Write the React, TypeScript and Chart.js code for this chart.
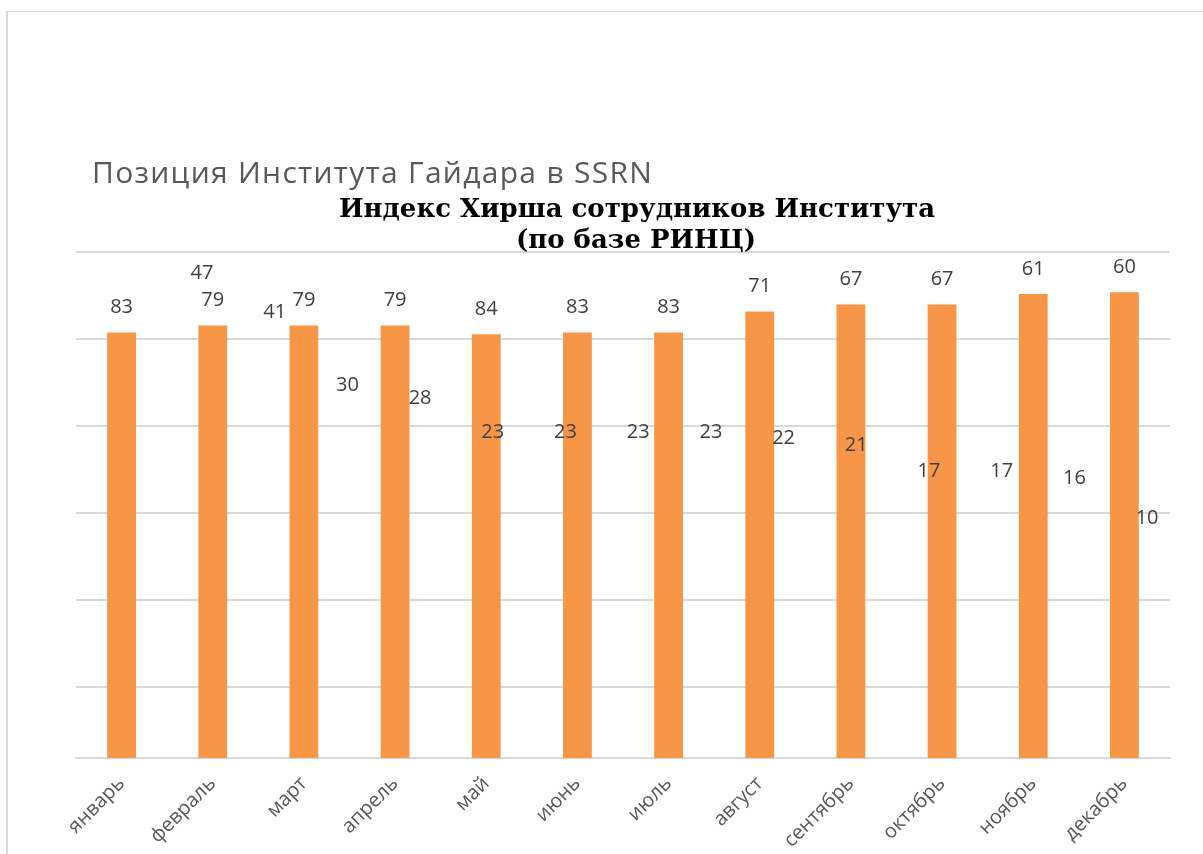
import React, { useEffect, useRef } from "react";
import { Chart, registerables } from "chart.js";

Chart.register(...registerables);

const months = [
  "январь", "февраль", "март", "апрель", "май", "июнь",
  "июль", "август", "сентябрь", "октябрь", "ноябрь", "декабрь",
];
const ssrnPositions = [83, 79, 79, 79, 84, 83, 83, 71, 67, 67, 61, 60];
const hirschValues = [47, 41, 30, 28, 23, 23, 23, 23, 22, 21, 17, 17, 16, 10];
const hirschSlots = hirschValues.map((_, i) => i + 1);
const yGridTicks = [36.8, 86.8, 136.8, 186.8, 236.8, 286.8];
const yMin = 36.8;
const yMax = 327.6;

const mainTitle = "Позиция Института Гайдара в SSRN";
const hirschTitle = ["Индекс Хирша сотрудников Института", "(по базе РИНЦ)"];

const labelPlugin = {
  id: "valueLabels",
  afterDatasetsDraw(chart: any) {
    const ctx = chart.ctx;
    ctx.save();
    ctx.font = '20px "Open Sans"';
    ctx.fillStyle = "#404040";
    ctx.textAlign = "center";
    ctx.textBaseline = "middle";
    chart.data.datasets.forEach((ds: any, di: number) => {
      const meta = chart.getDatasetMeta(di);
      meta.data.forEach((el: any, i: number) => {
        const raw = ds.data[i];
        const v = typeof raw === "object" ? raw.y : raw;
        ctx.fillText(String(v), el.x, el.y - 25);
      });
    });
    ctx.restore();
  },
};

const titlePlugin = {
  id: "titles",
  afterDraw(chart: any) {
    const ctx = chart.ctx;
    ctx.save();
    ctx.textBaseline = "alphabetic";
    ctx.textAlign = "left";
    ctx.font = '30px "Open Sans"';
    ctx.fillStyle = "#595959";
    const w0 = ctx.measureText(mainTitle).width;
    const spacing = Math.max(0, (560 - w0) / (mainTitle.length - 1));
    (ctx as any).letterSpacing = spacing.toFixed(2) + "px";
    ctx.fillText(mainTitle, 84, 171);
    (ctx as any).letterSpacing = "0px";
    ctx.textAlign = "center";
    ctx.font = 'bold 26px "DejaVu Serif"';
    ctx.fillStyle = "#000000";
    ctx.fillText(hirschTitle[0], 629, 205);
    ctx.fillText(hirschTitle[1], 628, 236);
    ctx.restore();
  },
};

export default function App() {
  const ref = useRef<HTMLCanvasElement | null>(null);
  useEffect(() => {
    if (!ref.current) return;
    const chart = new Chart(ref.current, {
      type: "bar",
      data: {
        labels: months,
        datasets: [
          {
            label: mainTitle,
            data: ssrnPositions,
            backgroundColor: "#F79646",
            base: yMax,
            grouped: false,
            barPercentage: 0.316,
            categoryPercentage: 1,
            xAxisID: "x",
            yAxisID: "y",
          } as any,
          {
            label: hirschTitle.join(" "),
            data: hirschValues.map((v, i) => ({ x: hirschSlots[i], y: v })),
            backgroundColor: "rgba(0,0,0,0)",
            grouped: false,
            xAxisID: "x2",
            yAxisID: "y2",
          } as any,
        ],
      },
      options: {
        responsive: false,
        animation: false,
        devicePixelRatio: 1,
        layout: { padding: { left: 68, right: 33, top: 240, bottom: 0 } },
        plugins: {
          legend: { display: false },
          tooltip: { enabled: false },
          title: { display: false },
        },
        scales: {
          x: {
            type: "category",
            offset: true,
            grid: { display: false },
            border: { display: true, color: "#d9d9d9", width: 2 },
            ticks: {
              minRotation: 45,
              maxRotation: 45,
              color: "#595959",
              font: { family: "Open Sans", size: 20 },
              padding: 6,
            },
            afterFit: (s: any) => {
              s.height = 96;
            },
          },
          y: {
            type: "linear",
            reverse: true,
            min: yMin,
            max: yMax,
            position: "left",
            afterBuildTicks: (s: any) => {
              s.ticks = yGridTicks.map((v) => ({ value: v }));
            },
            ticks: { display: false },
            grid: { color: "#d9d9d9", lineWidth: 2, drawTicks: false },
            border: { display: false },
            afterFit: (s: any) => {
              s.width = 0;
            },
          },
          x2: { type: "linear", display: false, offset: false, min: -0.733, max: 14.315 },
          y2: { type: "linear", display: false, min: -22.49, max: 53.93 },
        } as any,
      },
      plugins: [labelPlugin, titlePlugin],
    });
    return () => chart.destroy();
  }, []);

  return (
    <div style={{ position: "absolute", left: 0, top: 0, width: 1203, height: 854, overflow: "hidden", background: "#fff" }}>
      <div
        style={{
          position: "absolute",
          left: 6,
          top: 11,
          width: 1300,
          height: 900,
          borderTop: "1px solid #d9d9d9",
          borderLeft: "2px solid #d9d9d9",
        }}
      >
        <canvas ref={ref} width={1195} height={842} style={{ display: "block", width: 1195, height: 842 }} />
      </div>
    </div>
  );
}
